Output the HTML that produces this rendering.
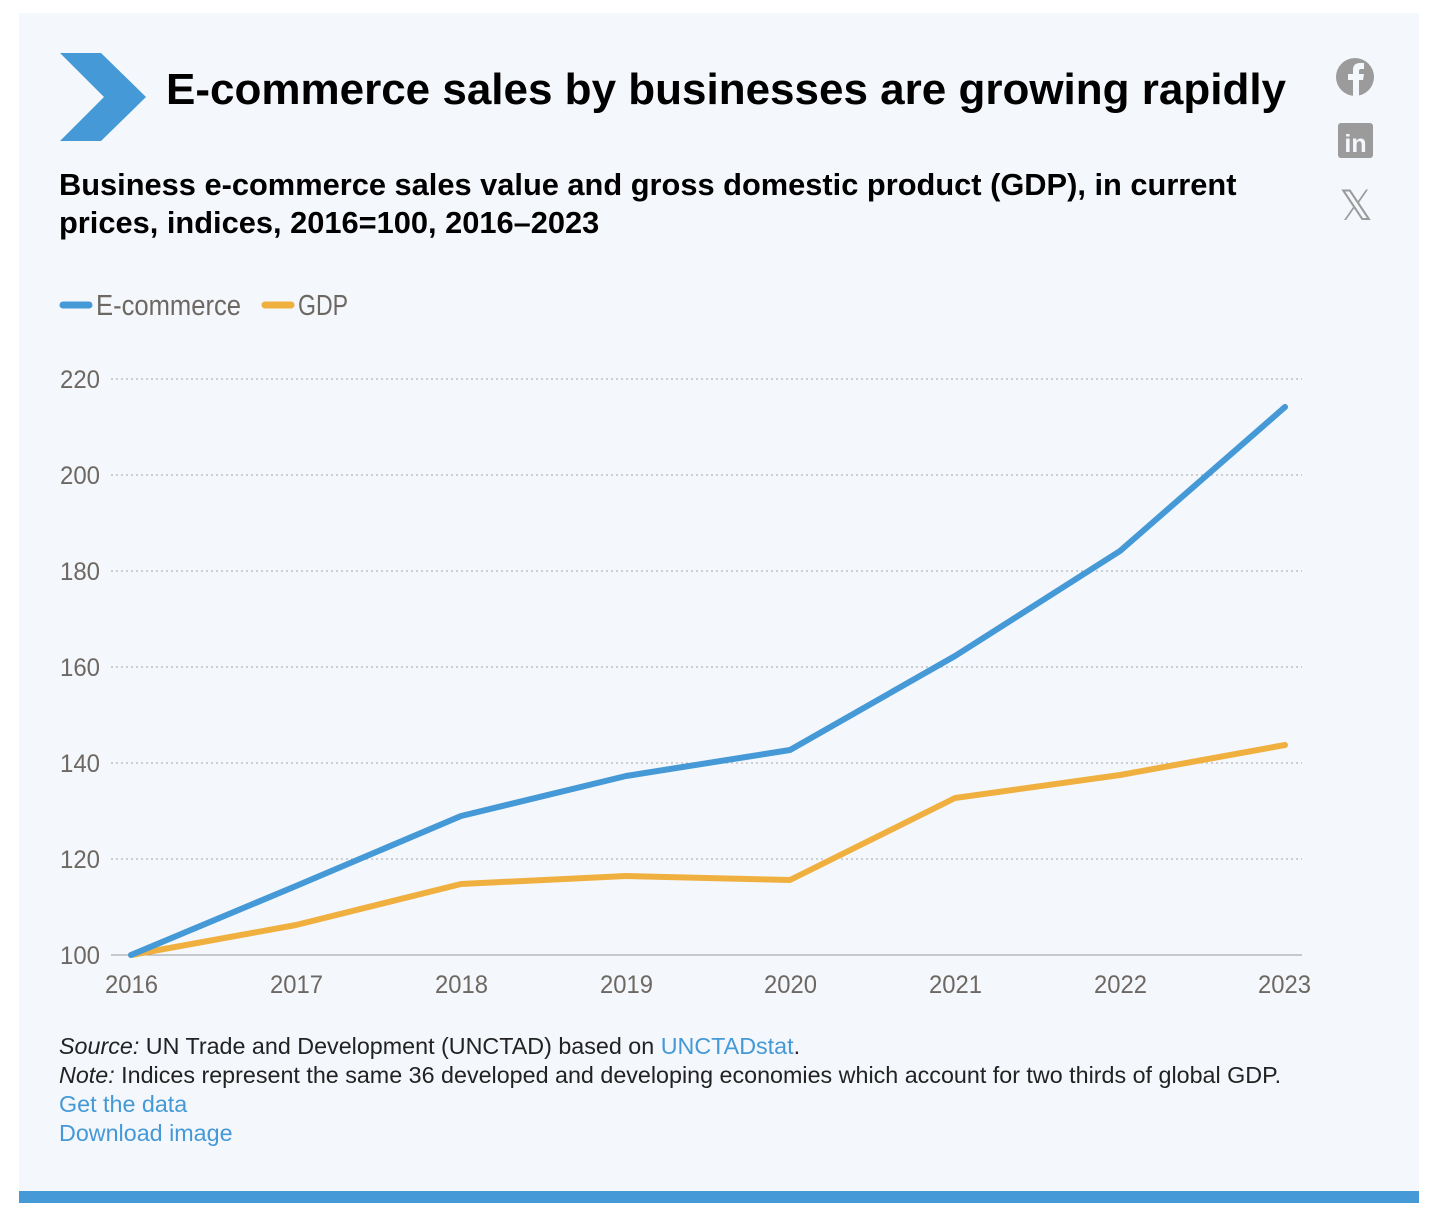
<!DOCTYPE html>
<html><head><meta charset="utf-8"><style>
body{margin:0;background:#fff;width:1448px;height:1226px;position:relative;font-family:"Liberation Sans",sans-serif;}
.panel{position:absolute;left:19px;top:13px;width:1400px;height:1178px;background:#f4f7fc;}
.bar{position:absolute;left:19px;top:1191px;width:1400px;height:12px;background:#4499d6;}
.t{position:absolute;white-space:nowrap;}
a{color:#4499d6;text-decoration:none}
</style></head><body>
<div class="panel"></div><div class="bar"></div>
<svg style="position:absolute;left:0;top:0" width="1448" height="1226">
<polygon points="60,53 101,53 146,97 101,141 60,141 104,97" fill="#4499d6"/>
<circle cx="1355" cy="77" r="19" fill="#9b9b9b"/>
<path d="M1353,96 V80 H1348 V74 H1353 V70 Q1353,63 1360,63 H1364 V69 H1361 Q1359,69 1359,71 V74 H1364 L1363,80 H1359 V96 Z" fill="#f4f7fc"/>
<rect x="1338" y="123" width="35" height="35" rx="3" fill="#9b9b9b"/>
<text x="1355.5" y="152" font-family="Liberation Sans" font-weight="bold" font-size="25" fill="#f4f7fc" text-anchor="middle">in</text>
<text x="1356" y="220" font-family="DejaVu Sans" font-size="42" fill="#9b9b9b" text-anchor="middle">𝕏</text>
<g stroke="#b5b5b5" stroke-width="1.3" stroke-dasharray="2,3">
<line x1="111" x2="1302" y1="379" y2="379"/><line x1="111" x2="1302" y1="475" y2="475"/>
<line x1="111" x2="1302" y1="571" y2="571"/><line x1="111" x2="1302" y1="667" y2="667"/>
<line x1="111" x2="1302" y1="763" y2="763"/><line x1="111" x2="1302" y1="859" y2="859"/>
</g>
<line x1="111" x2="1302" y1="955" y2="955" stroke="#999" stroke-width="1"/>
<g font-family="Liberation Sans, sans-serif" font-size="25" fill="#6e6863">
<text x="100" y="388" text-anchor="end" textLength="40" lengthAdjust="spacingAndGlyphs">220</text>
<text x="100" y="484" text-anchor="end" textLength="40" lengthAdjust="spacingAndGlyphs">200</text>
<text x="100" y="580" text-anchor="end" textLength="40" lengthAdjust="spacingAndGlyphs">180</text>
<text x="100" y="676" text-anchor="end" textLength="40" lengthAdjust="spacingAndGlyphs">160</text>
<text x="100" y="772" text-anchor="end" textLength="40" lengthAdjust="spacingAndGlyphs">140</text>
<text x="100" y="868" text-anchor="end" textLength="40" lengthAdjust="spacingAndGlyphs">120</text>
<text x="100" y="964" text-anchor="end" textLength="40" lengthAdjust="spacingAndGlyphs">100</text>
<text x="105" y="993" textLength="53" lengthAdjust="spacingAndGlyphs">2016</text>
<text x="270" y="993" textLength="53" lengthAdjust="spacingAndGlyphs">2017</text>
<text x="435" y="993" textLength="53" lengthAdjust="spacingAndGlyphs">2018</text>
<text x="600" y="993" textLength="53" lengthAdjust="spacingAndGlyphs">2019</text>
<text x="764" y="993" textLength="53" lengthAdjust="spacingAndGlyphs">2020</text>
<text x="929" y="993" textLength="53" lengthAdjust="spacingAndGlyphs">2021</text>
<text x="1094" y="993" textLength="53" lengthAdjust="spacingAndGlyphs">2022</text>
<text x="1258" y="993" textLength="53" lengthAdjust="spacingAndGlyphs">2023</text>
<text x="96" y="315" font-size="29" textLength="145" lengthAdjust="spacingAndGlyphs">E-commerce</text>
<text x="298" y="315" font-size="29" textLength="50" lengthAdjust="spacingAndGlyphs">GDP</text>
</g>
<line x1="63" x2="89" y1="305" y2="305" stroke="#4499d6" stroke-width="7" stroke-linecap="round"/>
<line x1="265" x2="291" y1="305" y2="305" stroke="#f0b040" stroke-width="7" stroke-linecap="round"/>
<polyline fill="none" stroke="#f0b040" stroke-width="6" stroke-linejoin="round" stroke-linecap="round" points="131,955 296,925 461,884 626,876 790,880 955,798 1120,775 1285,745"/>
<polyline fill="none" stroke="#4499d6" stroke-width="6" stroke-linejoin="round" stroke-linecap="round" points="131,955 296,886 461,816 626,776 790,750 955,656 1120,551 1285,407"/>
</svg>
<div class="t" style="left:166px;top:65px;font-size:44px;font-weight:bold;color:#000;">E-commerce sales by businesses are growing rapidly</div>
<div class="t" style="left:59px;top:166px;font-size:30.8px;font-weight:bold;color:#000;line-height:38px;">Business e-commerce sales value and gross domestic product (GDP), in current<br>prices, indices, 2016=100, 2016–2023</div>
<div class="t" style="left:59px;top:1032px;font-size:23.3px;color:#222;line-height:29px;">
<i>Source:</i> UN Trade and Development (UNCTAD) based on <a>UNCTADstat</a>.<br>
<i>Note:</i> Indices represent the same 36 developed and developing economies which account for two thirds of global GDP.<br>
<a>Get the data</a><br><a>Download image</a></div>
</body></html>
